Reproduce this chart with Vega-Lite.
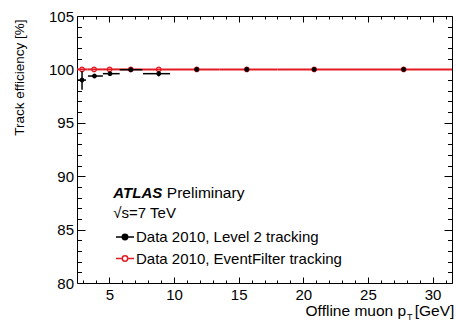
{
  "$schema": "https://vega.github.io/schema/vega-lite/v6.json",
  "width": 375,
  "height": 267,
  "autosize": {"type": "none"},
  "padding": {"left": 77, "top": 16, "right": 4, "bottom": 41},
  "background": "white",
  "config": {
    "view": {"stroke": null},
    "font": "Liberation Sans",
    "axis": {
      "grid": false,
      "domainColor": "black",
      "domainWidth": 1,
      "tickColor": "black",
      "tickWidth": 1,
      "labelColor": "black",
      "labelFont": "Liberation Sans",
      "labelFontSize": 15,
      "labelFlush": false,
      "labelOverlap": false,
      "titleColor": "black",
      "titleFont": "Liberation Sans",
      "titleFontWeight": "normal"
    },
    "legend": {
      "labelFont": "Liberation Sans",
      "labelFontSize": 15,
      "labelColor": "black",
      "labelLimit": 0
    }
  },
  "data": {
    "values": [
      {"series": "Data 2010, Level 2 tracking", "pt": 2.89, "ptlo": 2.55, "pthi": 3.2, "eff": 99.0, "efflo": 98.1, "effhi": 99.85},
      {"series": "Data 2010, Level 2 tracking", "pt": 3.85, "ptlo": 3.35, "pthi": 4.5, "eff": 99.38, "efflo": 99.25, "effhi": 99.5},
      {"series": "Data 2010, Level 2 tracking", "pt": 5.05, "ptlo": 4.5, "pthi": 5.8, "eff": 99.6, "efflo": 99.5, "effhi": 99.7},
      {"series": "Data 2010, Level 2 tracking", "pt": 6.66, "ptlo": 5.8, "pthi": 7.55, "eff": 99.97, "efflo": 99.9, "effhi": 100.03},
      {"series": "Data 2010, Level 2 tracking", "pt": 8.82, "ptlo": 7.6, "pthi": 9.7, "eff": 99.6, "efflo": 99.35, "effhi": 99.85},
      {"series": "Data 2010, Level 2 tracking", "pt": 11.76, "eff": 100.0},
      {"series": "Data 2010, Level 2 tracking", "pt": 15.63, "eff": 100.0},
      {"series": "Data 2010, Level 2 tracking", "pt": 20.84, "eff": 100.0},
      {"series": "Data 2010, Level 2 tracking", "pt": 27.76, "eff": 100.0},
      {"series": "Data 2010, EventFilter tracking", "pt": 2.89, "ptlo": 2.5, "pthi": 3.3, "eff": 100.0},
      {"series": "Data 2010, EventFilter tracking", "pt": 3.82, "ptlo": 3.3, "pthi": 4.5, "eff": 100.0},
      {"series": "Data 2010, EventFilter tracking", "pt": 5.02, "ptlo": 4.5, "pthi": 5.75, "eff": 100.0},
      {"series": "Data 2010, EventFilter tracking", "pt": 6.66, "ptlo": 5.75, "pthi": 7.5, "eff": 100.0},
      {"series": "Data 2010, EventFilter tracking", "pt": 8.82, "ptlo": 7.5, "pthi": 10.0, "eff": 100.0},
      {"series": "Data 2010, EventFilter tracking", "pt": 11.76, "ptlo": 10.0, "pthi": 13.5, "eff": 100.0},
      {"series": "Data 2010, EventFilter tracking", "pt": 15.63, "ptlo": 13.5, "pthi": 18.0, "eff": 100.0},
      {"series": "Data 2010, EventFilter tracking", "pt": 20.84, "ptlo": 18.0, "pthi": 24.0, "eff": 100.0},
      {"series": "Data 2010, EventFilter tracking", "pt": 27.76, "ptlo": 24.0, "pthi": 31.5, "eff": 100.0}
    ]
  },
  "layer": [
    {
      "transform": [{"filter": "datum.series === 'Data 2010, EventFilter tracking'"}],
      "mark": {"type": "rule", "color": "#e31b23", "strokeWidth": 2},
      "encoding": {
        "x": {"field": "ptlo", "type": "quantitative",
              "scale": {"domain": [2.5, 31.5], "nice": false, "zero": false},
              "axis": {"orient": "bottom", "values": [5, 10, 15, 20, 25, 30], "tickSize": -6, "labelPadding": 10, "title": null, "domain": true}},
        "x2": {"field": "pthi"},
        "y": {"field": "eff", "type": "quantitative",
              "scale": {"domain": [80, 105], "nice": false, "zero": false},
              "axis": {"orient": "left", "values": [80, 85, 90, 95, 100, 105], "tickSize": -8, "labelPadding": 11.5, "domain": true,
                       "title": "Track efficiency [%]", "titleFontSize": 13.5, "titleAngle": -90, "titleAnchor": "end", "titleAlign": "right",
                       "titleBaseline": "alphabetic", "titleX": -54, "titleY": 3}}
      }
    },
    {
      "transform": [{"filter": "datum.series === 'Data 2010, EventFilter tracking'"}],
      "mark": {"type": "point", "filled": false, "color": "#e31b23", "strokeWidth": 1.2, "size": 21, "opacity": 1},
      "encoding": {
        "x": {"field": "pt", "type": "quantitative",
              "scale": {"domain": [2.5, 31.5], "nice": false, "zero": false},
              "axis": {"orient": "bottom", "values": [3, 4, 6, 7, 8, 9, 11, 12, 13, 14, 16, 17, 18, 19, 21, 22, 23, 24, 26, 27, 28, 29, 31], "tickSize": -3, "labels": false, "domain": false, "title": null}},
        "y": {"field": "eff", "type": "quantitative",
              "scale": {"domain": [80, 105], "nice": false, "zero": false},
              "axis": {"orient": "left", "values": [81, 82, 83, 84, 86, 87, 88, 89, 91, 92, 93, 94, 96, 97, 98, 99, 101, 102, 103, 104], "tickSize": -4.5, "labels": false, "domain": false, "title": null}}
      }
    },
    {
      "transform": [{"filter": "datum.series === 'Data 2010, Level 2 tracking' && isValid(datum.ptlo)"}],
      "mark": {"type": "rule", "color": "black", "strokeWidth": 1.5},
      "encoding": {
        "x": {"field": "ptlo", "type": "quantitative",
              "axis": {"orient": "top", "values": [5, 10, 15, 20, 25, 30], "tickSize": -6, "labels": false, "domain": true, "title": null}},
        "x2": {"field": "pthi"},
        "y": {"field": "eff", "type": "quantitative",
              "axis": {"orient": "right", "values": [80, 85, 90, 95, 100, 105], "tickSize": -8, "labels": false, "domain": true, "title": null}}
      }
    },
    {
      "transform": [{"filter": "datum.series === 'Data 2010, Level 2 tracking' && isValid(datum.efflo)"}],
      "mark": {"type": "rule", "color": "black", "strokeWidth": 1.5},
      "encoding": {
        "x": {"field": "pt", "type": "quantitative",
              "axis": {"orient": "top", "values": [3, 4, 6, 7, 8, 9, 11, 12, 13, 14, 16, 17, 18, 19, 21, 22, 23, 24, 26, 27, 28, 29, 31], "tickSize": -3, "labels": false, "domain": false, "title": null}},
        "y": {"field": "efflo", "type": "quantitative",
              "axis": {"orient": "right", "values": [81, 82, 83, 84, 86, 87, 88, 89, 91, 92, 93, 94, 96, 97, 98, 99, 101, 102, 103, 104], "tickSize": -4.5, "labels": false, "domain": false, "title": null}},
        "y2": {"field": "effhi"}
      }
    },
    {
      "transform": [{"filter": "datum.series === 'Data 2010, Level 2 tracking'"}],
      "mark": {"type": "point", "filled": true, "size": 16, "strokeWidth": 1, "opacity": 1},
      "encoding": {
        "x": {"field": "pt", "type": "quantitative", "axis": null},
        "y": {"field": "eff", "type": "quantitative", "axis": null},
        "fill": {
          "field": "series", "type": "nominal",
          "scale": {"domain": ["Data 2010, Level 2 tracking", "Data 2010, EventFilter tracking"], "range": ["black", "white"]},
          "legend": {
            "orient": "none", "legendX": 38, "legendY": 211, "title": null, "padding": 0,
            "symbolType": "M-1,0H-0.3M0.3,0H1M0.3,0A0.3,0.3,0,1,1,-0.3,0A0.3,0.3,0,1,1,0.3,0",
            "symbolSize": 324, "symbolStrokeWidth": 1.5, "labelOffset": 1, "rowPadding": 3.5,
            "labelFontSize": 15, "labelColor": "black", "labelLimit": 0
          }
        },
        "stroke": {
          "field": "series", "type": "nominal",
          "scale": {"domain": ["Data 2010, Level 2 tracking", "Data 2010, EventFilter tracking"], "range": ["black", "#e31b23"]},
          "legend": {
            "orient": "none", "legendX": 38, "legendY": 211, "title": null, "padding": 0,
            "symbolType": "M-1,0H-0.3M0.3,0H1M0.3,0A0.3,0.3,0,1,1,-0.3,0A0.3,0.3,0,1,1,0.3,0",
            "symbolSize": 324, "symbolStrokeWidth": 1.5, "labelOffset": 1, "rowPadding": 3.5,
            "labelFontSize": 15, "labelColor": "black", "labelLimit": 0
          }
        }
      }
    },
    {
      "data": {"values": [{"t": "ATLAS"}]},
      "mark": {"type": "text", "align": "left", "baseline": "alphabetic", "fontSize": 15, "fontWeight": "bold", "fontStyle": "italic", "color": "black"},
      "encoding": {
        "x": {"datum": 5.31, "type": "quantitative", "axis": null},
        "y": {"datum": 88.0, "type": "quantitative", "axis": null},
        "text": {"field": "t"}
      }
    },
    {
      "data": {"values": [{"t": "Preliminary"}]},
      "mark": {"type": "text", "align": "left", "baseline": "alphabetic", "fontSize": 15.5, "color": "black"},
      "encoding": {
        "x": {"datum": 9.45, "type": "quantitative", "axis": null},
        "y": {"datum": 88.0, "type": "quantitative", "axis": null},
        "text": {"field": "t"}
      }
    },
    {
      "data": {"values": [{"t": "√s=7 TeV"}]},
      "mark": {"type": "text", "align": "left", "baseline": "alphabetic", "fontSize": 15, "color": "black"},
      "encoding": {
        "x": {"datum": 5.31, "type": "quantitative", "axis": null},
        "y": {"datum": 86.06, "type": "quantitative", "axis": null},
        "text": {"field": "t"}
      }
    },
    {
      "data": {"values": [{"t": "Offline muon p"}]},
      "mark": {"type": "text", "align": "right", "baseline": "alphabetic", "fontSize": 15.5, "color": "black"},
      "encoding": {
        "x": {"datum": 27.95, "type": "quantitative", "axis": null},
        "y": {"datum": 76.88, "type": "quantitative", "axis": null},
        "text": {"field": "t"}
      }
    },
    {
      "data": {"values": [{"t": "T"}]},
      "mark": {"type": "text", "align": "left", "baseline": "alphabetic", "fontSize": 9, "color": "black"},
      "encoding": {
        "x": {"datum": 28.02, "type": "quantitative", "axis": null},
        "y": {"datum": 76.55, "type": "quantitative", "axis": null},
        "text": {"field": "t"}
      }
    },
    {
      "data": {"values": [{"t": "[GeV]"}]},
      "mark": {"type": "text", "align": "right", "baseline": "alphabetic", "fontSize": 15.5, "color": "black"},
      "encoding": {
        "x": {"datum": 31.68, "type": "quantitative", "axis": null},
        "y": {"datum": 76.88, "type": "quantitative", "axis": null},
        "text": {"field": "t"}
      }
    }
  ],
  "resolve": {"axis": {"x": "independent", "y": "independent"}}
}
